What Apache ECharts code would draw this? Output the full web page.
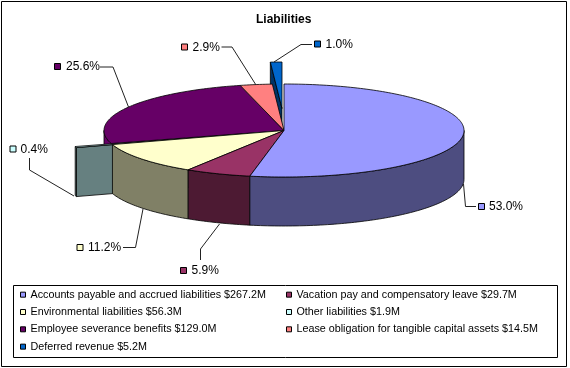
<!DOCTYPE html>
<html>
<head>
<meta charset="utf-8">
<style>
html, body { margin: 0; padding: 0; background: #fff; }
#chart { width: 570px; height: 368px; }
</style>
<script src="https://cdn.jsdelivr.net/npm/echarts@6/dist/echarts.min.js"></script>
</head>
<body>
<div id="chart"></div>
<script>
// values
const names = [
  'Accounts payable and accrued liabilities',
  'Vacation pay and compensatory leave',
  'Environmental liabilities',
  'Other liabilities',
  'Employee severance benefits',
  'Lease obligation for tangible capital assets',
  'Deferred revenue'
]
const amounts = [267.2, 29.7, 56.3, 1.9, 129.0, 14.5, 5.2]
const percents = ['53.0%', '5.9%', '11.2%', '0.4%', '25.6%', '2.9%', '1.0%']

const colors = ['#9999ff', '#993366', '#ffffcc', '#ccffff', '#660066', '#ff8080', '#0066cc']
const wallColors = ['#4d4d80', '#4d1a33', '#808066', '#668080', '#660066', '#804040', '#003366']

// layout of the fake 3D pie
const cx = 284, cy = 130.5, rx = 180, ry = 46.5, depth = 49
const explode = [[0, 0], [0, 0], [0, 0], [-36, 3], [0, 0], [0, 0], [-2, -22]]
const wallZ = [7, 6, 5, 4, 1, 2, 3]
const topZ = [26, 25, 24, 20, 22, 23, 21]

// key position, text position and leader line of every percent label
const labels = [
  {key: [478.5, 203.5], text: [489, 207], line: [[463.5, 184], [465.5, 206.5], [476, 206.5]]},
  {key: [180.5, 267.5], text: [191.5, 271], line: [[219.5, 224], [200.5, 249], [200.5, 260]]},
  {key: [77, 244.5], text: [88, 248], line: [[143, 209], [135.5, 247.5], [123, 247.5]]},
  {key: [10, 146], text: [20.5, 150], line: [[29.5, 158], [29.5, 170], [74, 196]]},
  {key: [54.5, 63.5], text: [66, 67], line: [[100, 67], [113, 67], [128.5, 107]]},
  {key: [181.5, 44], text: [192.5, 47.5], line: [[221.5, 47], [232, 47], [256, 85]]},
  {key: [314.5, 41], text: [325.5, 45], line: [[312, 44.5], [301, 44.5], [274, 62]]}
]

const total = amounts.reduce((a, b) => a + b, 0)
const starts = []
let sum = 0
for (let i = 0; i < amounts.length; i++) {
  starts.push(sum / total * Math.PI * 2)
  sum += amounts[i]
}

function rim(a, off, down) {
  return [cx + off[0] + rx * Math.sin(a), cy + off[1] - ry * Math.cos(a) + down]
}

function arc(a0, a1, off, down) {
  let pts = []
  let steps = Math.max(2, Math.ceil((a1 - a0) / 0.02))
  for (let s = 0; s <= steps; s++) {
    pts.push(rim(a0 + (a1 - a0) * s / steps, off, down))
  }
  return pts
}

function poly(points, fill, z2) {
  return {
    type: 'polygon',
    z2: z2,
    shape: {points: points},
    style: {fill: fill, stroke: '#000', lineWidth: 0.8, lineJoin: 'round'}
  }
}

function renderSlice(params, api) {
  let i = params.seriesIndex
  let a0 = starts[i]
  let a1 = a0 + api.value(0) / total * Math.PI * 2
  let off = explode[i]
  let centre = [cx + off[0], cy + off[1]]
  let kids = []

  // outer wall, only the front half of the rim can be seen
  let w0 = Math.max(a0, Math.PI / 2)
  let w1 = Math.min(a1, Math.PI * 1.5)
  if (w1 > w0) {
    let pts = arc(w0, w1, off, 0).concat(arc(w0, w1, off, depth).reverse())
    kids.push(poly(pts, wallColors[i], wallZ[i]))
  }

  // cut face of the slices pulled out of the pie
  if (off[0] !== 0 || off[1] !== 0) {
    let r = rim(a0, off, 0)
    kids.push(poly([r, centre, [centre[0], centre[1] + depth], [r[0], r[1] + depth]], wallColors[i], wallZ[i]))
  }

  // top
  kids.push(poly([centre].concat(arc(a0, a1, off, 0)), colors[i], topZ[i]))

  // percent label
  let lab = labels[i]
  kids.push({
    type: 'polyline',
    z2: 40,
    shape: {points: lab.line},
    style: {fill: 'none', stroke: '#222', lineWidth: 1}
  })
  kids.push({
    type: 'rect',
    z2: 41,
    shape: {x: lab.key[0], y: lab.key[1], width: 6, height: 6},
    style: {fill: colors[i], stroke: '#000', lineWidth: 1}
  })
  kids.push({
    type: 'text',
    z2: 41,
    x: lab.text[0],
    y: lab.text[1],
    style: {
      text: percents[i],
      fill: '#000',
      font: '12px "Liberation Sans"',
      textAlign: 'left',
      textVerticalAlign: 'middle'
    }
  })
  return {type: 'group', children: kids}
}

const seriesNames = names.map((n, i) => n + ' $' + amounts[i].toFixed(1) + 'M')

const series = names.map((n, i) => ({
  name: seriesNames[i],
  type: 'custom',
  coordinateSystem: 'none',
  silent: true,
  animation: false,
  itemStyle: {color: colors[i]},
  renderItem: renderSlice,
  data: [[amounts[i]]]
}))

// the legend reads across in two columns, so one legend per column
function column(items, left) {
  return {
    data: items,
    selectedMode: false,
    orient: 'vertical',
    left: left,
    top: 288,
    padding: 0,
    itemGap: 4,
    itemWidth: 5,
    itemHeight: 5,
    icon: 'rect',
    itemStyle: {borderColor: '#000', borderWidth: 1},
    textStyle: {color: '#000', fontFamily: 'Liberation Sans', fontSize: 10.75, lineHeight: 13.33}
  }
}

const option = {
  animation: false,
  backgroundColor: '#fff',
  title: {
    text: 'Liabilities',
    left: 256,
    top: 14,
    padding: 0,
    textStyle: {fontFamily: 'Liberation Sans', fontSize: 12, fontWeight: 'bold', color: '#000'}
  },
  legend: [
    column(seriesNames.filter((n, i) => i % 2 === 0), 20),
    column(seriesNames.filter((n, i) => i % 2 === 1), 286)
  ],
  graphic: [{
    type: 'rect',
    silent: true,
    shape: {x: 1.5, y: 1.5, width: 565, height: 365},
    style: {fill: 'none', stroke: '#000', lineWidth: 1}
  }, {
    type: 'rect',
    silent: true,
    shape: {x: 13.5, y: 285.5, width: 544, height: 72},
    style: {fill: 'none', stroke: '#000', lineWidth: 1}
  }],
  series: series
}

const myChart = echarts.init(document.getElementById('chart'), null, {renderer: 'canvas'})
myChart.setOption(option)
</script>
</body>
</html>
